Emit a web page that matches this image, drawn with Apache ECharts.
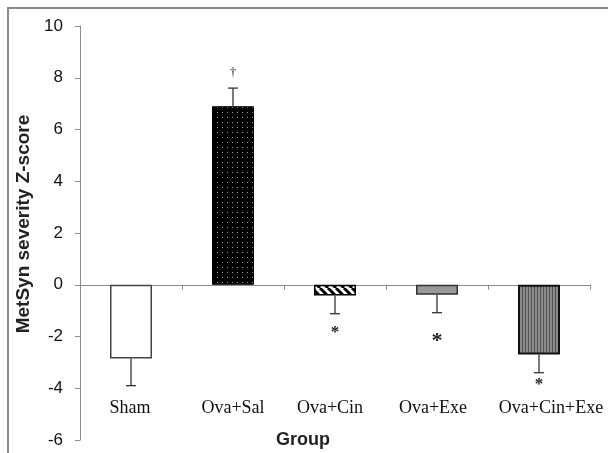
<!DOCTYPE html>
<html>
<head>
<meta charset="utf-8">
<script src="https://cdn.jsdelivr.net/npm/echarts@6/dist/echarts.min.js"></script>
<style>html,body{margin:0;padding:0;background:#fff}#c{width:608px;height:453px}</style>
</head>
<body>
<div id="c"></div>
<script>
const categories = ['Sham', 'Ova+Sal', 'Ova+Cin', 'Ova+Exe', 'Ova+Cin+Exe'];
const means = [-2.85, 6.9, -0.42, -0.39, -2.7];
const errorEnds = [-3.9, 7.6, -1.12, -1.08, -3.4];
const markTexts = ['', '†', '*', '*', '*'];
const markValues = [null, 8.2, -1.68, -1.98, -3.68];
const yTicks = { min: -6, max: 10, interval: 2 };

function makePattern(w, h, draw) {
  const cv = document.createElement('canvas');
  cv.width = w; cv.height = h;
  const ctx = cv.getContext('2d');
  draw(ctx, w, h);
  return { image: cv, repeat: 'repeat' };
}
const dots = makePattern(5, 5, (ctx, w, h) => {
  ctx.fillStyle = '#000'; ctx.fillRect(0, 0, w, h);
  ctx.fillStyle = '#9a9a9a'; ctx.fillRect(2, 2, 1, 1);
});
const diag = makePattern(8, 8, (ctx, w, h) => {
  ctx.fillStyle = '#fff'; ctx.fillRect(0, 0, w, h);
  ctx.strokeStyle = '#000'; ctx.lineWidth = 3;
  for (let k = -2; k <= 2; k++) {
    ctx.beginPath(); ctx.moveTo(k * 8, 0); ctx.lineTo(k * 8 + 8, 8); ctx.stroke();
  }
});
const vert = makePattern(3, 4, (ctx, w, h) => {
  ctx.fillStyle = '#8a8a8a'; ctx.fillRect(0, 0, w, h);
  ctx.fillStyle = '#555'; ctx.fillRect(0, 0, 1, h);
});

const styles = [
  { color: '#fff', borderColor: '#444', borderWidth: 1.5 },
  { color: dots, borderColor: '#000', borderWidth: 1 },
  { color: diag, borderColor: '#000', borderWidth: 1.5 },
  { color: '#999', borderColor: '#333', borderWidth: 1.5 },
  { color: vert, borderColor: '#111', borderWidth: 2 }
];
// small horizontal nudges of the category labels (styling only)
const labelPads = [[0, 2, 0, 0], [0, 0, 0, 0], [0, 10, 0, 0], [0, 8, 0, 0], [0, 0, 0, 24]];

const chart = echarts.init(document.getElementById('c'), null, { renderer: 'canvas' });
chart.setOption({
  animation: false,
  backgroundColor: '#fff',
  graphic: [{
    type: 'rect', shape: { x: 8, y: 8, width: 640, height: 480 },
    style: { fill: 'none', stroke: '#8a8a8a', lineWidth: 2 }, z: 100
  }],
  grid: { left: 80, right: 18, top: 26, bottom: 13, containLabel: false, outerBoundsMode: 'none' },
  xAxis: [
    {
      type: 'category', data: categories,
      axisLine: { onZero: true, lineStyle: { color: '#8c8c8c', width: 1 } },
      axisTick: { show: true, length: 5, lineStyle: { color: '#8c8c8c' } },
      axisLabel: { show: false }
    },
    {
      type: 'category', position: 'bottom', offset: -50,
      data: categories.map((c, i) => ({ value: c, textStyle: { padding: labelPads[i] } })),
      axisLine: { show: false }, axisTick: { show: false },
      axisLabel: { interval: 0, margin: 9, fontFamily: 'Liberation Serif', fontSize: 18, color: '#111' },
      name: 'Group', nameLocation: 'middle', nameGap: 41,
      nameTextStyle: { fontFamily: 'Liberation Sans', fontWeight: 'bold', fontSize: 18, color: '#222', padding: [0, 64, 0, 0] }
    }
  ],
  yAxis: {
    type: 'value', min: yTicks.min, max: yTicks.max, interval: yTicks.interval,
    splitLine: { show: false },
    axisLine: { show: true, lineStyle: { color: '#8c8c8c', width: 1 } },
    axisTick: { show: true, length: 5, lineStyle: { color: '#8c8c8c' } },
    axisLabel: { margin: 17, fontFamily: 'Liberation Sans', fontSize: 17, color: '#111' },
    name: 'MetSyn severity Z-score', nameLocation: 'middle', nameGap: 43, nameRotate: 90,
    nameTextStyle: { fontFamily: 'Liberation Sans', fontWeight: 'bold', fontSize: 19, color: '#222', padding: [0, 0, 0, 18] }
  },
  series: [
    {
      type: 'bar', barWidth: 42, xAxisIndex: 0,
      data: means.map((v, i) => ({ value: v, itemStyle: styles[i] })),
      z: 2
    },
    {
      type: 'custom', xAxisIndex: 0,
      data: means.map((v, i) => [i, v, errorEnds[i]]),
      renderItem: (params, api) => {
        const a = api.coord([api.value(0), api.value(1)]);
        const b = api.coord([api.value(0), api.value(2)]);
        const st = { stroke: '#333', lineWidth: 1.3 };
        return {
          type: 'group', children: [
            { type: 'line', shape: { x1: a[0], y1: a[1], x2: b[0], y2: b[1] }, style: st },
            { type: 'line', shape: { x1: b[0] - 5, y1: b[1], x2: b[0] + 5, y2: b[1] }, style: st }
          ]
        };
      },
      z: 3
    },
    {
      type: 'custom', xAxisIndex: 0,
      data: markValues.map((v, i) => [i, v === null ? 0 : v, i]),
      renderItem: (params, api) => {
        const i = api.value(2);
        if (!markTexts[i]) return null;
        const p = api.coord([api.value(0), api.value(1)]);
        const isDagger = markTexts[i] === '†';
        const fs = isDagger ? 13 : (i === 3 ? 22 : 17);
        return {
          type: 'text',
          style: {
            x: p[0], y: p[1] + (isDagger ? 0 : fs * 0.25), text: markTexts[i],
            fontFamily: 'Liberation Serif', fontWeight: isDagger ? 'normal' : 'bold',
            fontSize: fs, fill: '#222', align: 'center', verticalAlign: 'middle'
          }
        };
      },
      z: 4
    }
  ]
});
</script>
</body>
</html>
